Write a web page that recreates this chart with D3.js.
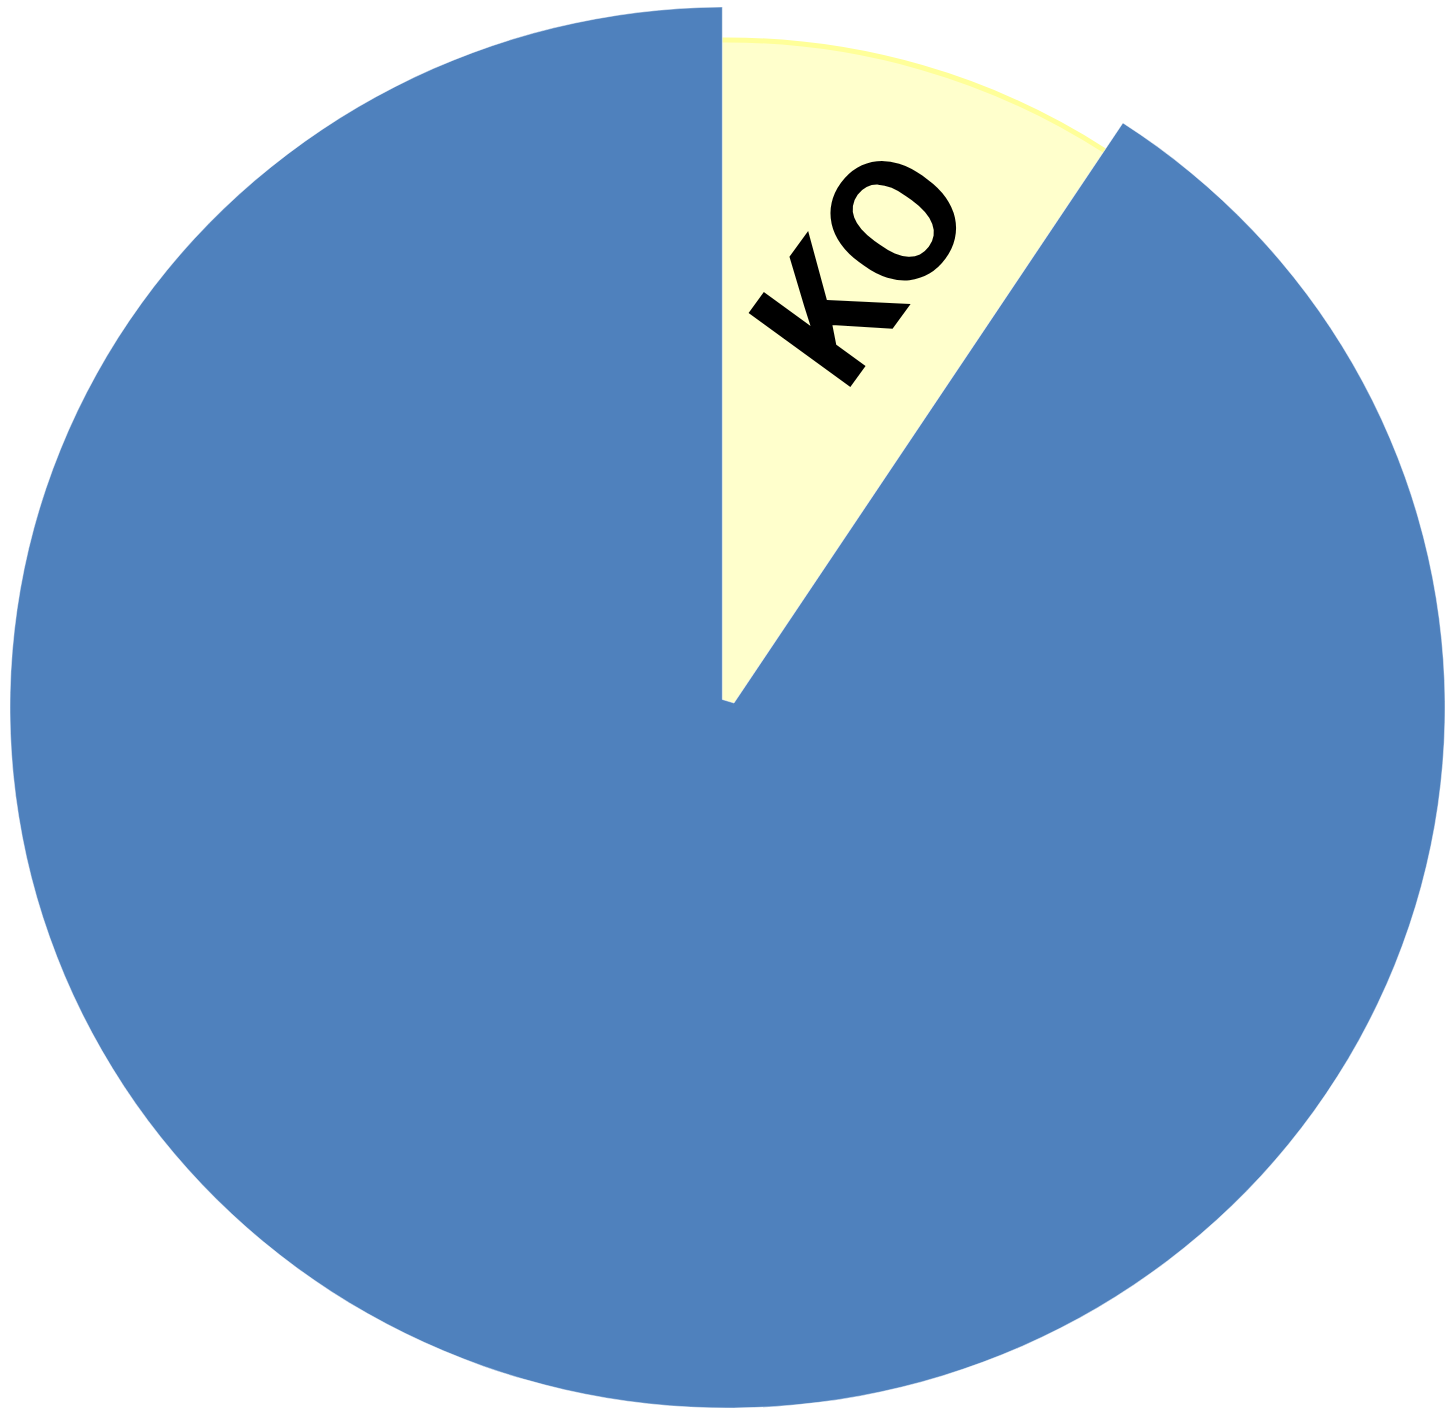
<!DOCTYPE html>
<html>
<head>
<meta charset="utf-8">
<script src="https://cdn.jsdelivr.net/npm/d3@7"></script>
<style>
  html, body { margin: 0; padding: 0; background: #ffffff; }
  svg { display: block; }
</style>
</head>
<body>
<svg id="chart" width="1455" height="1411"></svg>
<script>
// ---- data ----
const categories = ["KO", "Other"];
const values = [9.4, 90.6];
const labels = ["KO", ""];

// ---- layout / style ----
const W = 1455, H = 1411;
const cx = 727.5, cy = 707.5;          // ellipse centre
const rxBlue = 717.5, ryBlue = 700.5;  // outer ellipse of large slice
const rxYel = 684, ryYel = 667.5;      // outer ellipse of small slice
const apexOffset = { x: -5.2, y: 13 };  // common apex of the slices
const innerCut = 21;
const colors = { KO: "#ffffcc", Other: "#4f81bd" };
const yellowEdge = "#ffff99";

const svg = d3.select("#chart");
const apex = { x: cx + apexOffset.x, y: cy + apexOffset.y };

const pie = d3.pie().sort(null).value(d => d.value);
const arcs = pie(categories.map((c, i) => ({ name: c, value: values[i], label: labels[i] })));

function dir(theta) { return [Math.sin(theta), -Math.cos(theta)]; }
function rayEllipse(theta, rx, ry) {
  const [dx, dy] = dir(theta);
  const ox = apex.x - cx, oy = apex.y - cy;
  const A = (dx * dx) / (rx * rx) + (dy * dy) / (ry * ry);
  const B = 2 * ((ox * dx) / (rx * rx) + (oy * dy) / (ry * ry));
  const C = (ox * ox) / (rx * rx) + (oy * oy) / (ry * ry) - 1;
  const t = (-B + Math.sqrt(B * B - 4 * A * C)) / (2 * A);
  return [apex.x + t * dx, apex.y + t * dy];
}
function pt(p) { return p[0].toFixed(2) + "," + p[1].toFixed(2); }
function inner(theta) { const [x, y] = dir(theta); return [apex.x + innerCut * x, apex.y + innerCut * y]; }

// slice outline: inner chord -> outer ellipse arc -> back along the other edge
function slicePath(d, rx, ry) {
  const p0 = rayEllipse(d.startAngle, rx, ry);
  const p1 = rayEllipse(d.endAngle, rx, ry);
  const large = (d.endAngle - d.startAngle) > Math.PI ? 1 : 0;
  return "M" + pt(inner(d.startAngle)) + "L" + pt(p0) +
         "A" + rx + "," + ry + " 0 " + large + " 1 " + pt(p1) +
         "L" + pt(inner(d.endAngle)) + "Z";
}
function arcOnly(d, rx, ry) {
  const p0 = rayEllipse(d.startAngle, rx, ry);
  const p1 = rayEllipse(d.endAngle, rx, ry);
  const large = (d.endAngle - d.startAngle) > Math.PI ? 1 : 0;
  return "M" + pt(p0) + "A" + rx + "," + ry + " 0 " + large + " 1 " + pt(p1);
}

const small = arcs[0], big = arcs[1];

// small (yellow) slice
svg.append("path")
  .attr("d", slicePath(small, rxYel, ryYel))
  .attr("fill", colors[small.data.name]);
svg.append("path")
  .attr("d", arcOnly(small, rxYel, ryYel))
  .attr("fill", "none")
  .attr("stroke", yellowEdge)
  .attr("stroke-width", 5);

// large (blue) slice
svg.append("path")
  .attr("d", slicePath(big, rxBlue, ryBlue))
  .attr("fill", colors[big.data.name])
  .attr("stroke", "rgba(255,255,255,0.45)")
  .attr("stroke-width", 1);

// label of small slice
const mid = (small.startAngle + small.endAngle) / 2;
const [mx, my] = dir(mid);
const labelR = 476;
svg.append("g")
  .attr("transform", `translate(${apex.x + labelR * mx},${apex.y + labelR * my}) rotate(-54)`)
  .append("text")
  .attr("x", 0)
  .attr("y", 63)
  .attr("text-anchor", "middle")
  .attr("font-family", "Roboto, 'Open Sans', sans-serif")
  .attr("font-weight", 700)
  .attr("font-size", 177)
  .attr("fill", "#000000")
  .text(small.data.label);
</script>
</body>
</html>
